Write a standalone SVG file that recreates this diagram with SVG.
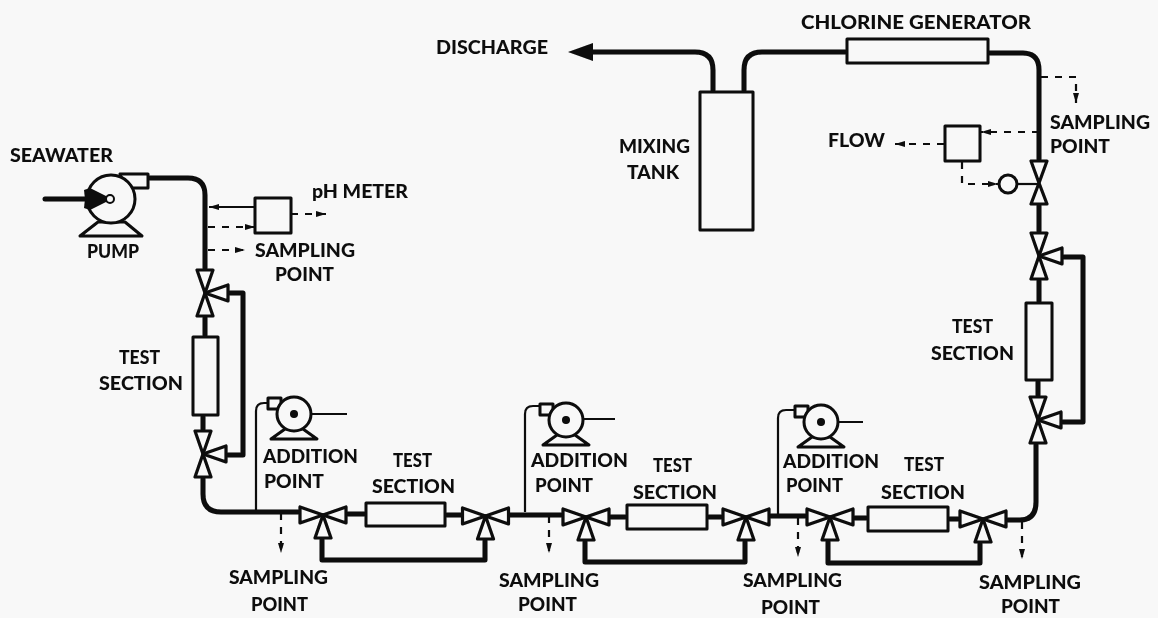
<svg xmlns="http://www.w3.org/2000/svg" xmlns:xlink="http://www.w3.org/1999/xlink" width="1158" height="618" viewBox="0 0 1158 618">
<style>
text{font-family:"Lato","Noto Sans","Liberation Sans",sans-serif;font-weight:900;font-size:18px;fill:#111}
.pipe{fill:none;stroke:#0a0a0a;stroke-width:5;stroke-linejoin:round}
.thin{fill:none;stroke:#0a0a0a;stroke-width:2.2}
.dash{fill:none;stroke:#0a0a0a;stroke-width:2.2;stroke-dasharray:7 7}
.box{fill:#f8f8f8;stroke:#0a0a0a;stroke-width:3;stroke-linejoin:round}
.tri{fill:#f8f8f8;stroke:#0a0a0a;stroke-width:3.2;stroke-linejoin:round}
.solid{fill:#0a0a0a}
</style>
<defs>
<filter id="soft" x="0" y="0" width="100%" height="100%"><feGaussianBlur stdDeviation="0.45"/></filter>
<marker id="ah" markerWidth="11" markerHeight="8" refX="10" refY="4" orient="auto" markerUnits="userSpaceOnUse"><path d="M0 1L10 4L0 7Z" fill="#0a0a0a"/></marker>
<g id="v3">
<path class="tri" d="M-8 -23H8L0 0Z"/><path class="tri" d="M-8 23H8L0 0Z"/><path class="tri" d="M0 0L23 -8V8Z"/>
</g>
<g id="v2">
<path class="tri" d="M-8 -22H8L0 0Z"/><path class="tri" d="M-8 21H8L0 0Z"/>
</g>
<g id="addpump">
<path class="box" d="M-26 -16H-13V-5H-26Z"/>
<path class="box" d="M-14 25L-23 25L-9 15H9L23 25Z"/>
<circle class="box" r="17"/>
<circle class="solid" r="4"/>
</g>
</defs>
<rect width="1158" height="618" fill="#f8f8f8"/>
<g filter="url(#soft)">
<g id="connectors">
<path class="pipe" d="M148 178H188Q205 178 205 195V270"/>
<path class="pipe" d="M205 315V337"/>
<path class="pipe" d="M228 293H243V455H225"/>
<path class="pipe" d="M203 415V432"/>
<path class="pipe" d="M203 477V494Q203 512 221 512H301"/>
<path class="pipe" d="M345 514H366M445 515H463"/>
<path class="pipe" d="M322 538V560H485V538"/>
<path class="pipe" d="M508 515H563"/>
<path class="pipe" d="M609 517H627M707 517H723"/>
<path class="pipe" d="M585 538V562H745V538"/>
<path class="pipe" d="M769 516H807"/>
<path class="pipe" d="M854 518H868M948 519H960"/>
<path class="pipe" d="M828 538V563H980V540"/>
<path class="pipe" d="M1005 520H1020Q1036 520 1036 502V443"/>
<path class="pipe" d="M1060 422H1083V257H1062"/>
<path class="pipe" d="M1038 398V380M1039 303V279M1039 234V204"/>
<path class="pipe" d="M988 53H1023Q1039 53 1039 70V161"/>
<path class="pipe" d="M713 92V70Q713 52 695 52H590"/>
<path class="pipe" d="M744 92V70Q744 52 762 52H847"/>
<path class="solid" d="M568 52L593 43V61Z"/>
<path class="pipe" d="M45 199H88" stroke-linecap="round"/>
<path class="thin" d="M255 207H209" marker-end="url(#ah)"/>
<path class="dash" d="M208 227H255" marker-end="url(#ah)"/>
<path class="dash" d="M291 214H326" marker-end="url(#ah)"/>
<path class="dash" d="M208 250H245" marker-end="url(#ah)"/>
<path class="dash" d="M1039 132H981" marker-end="url(#ah)"/>
<path class="dash" d="M944 144H895" marker-end="url(#ah)"/>
<path class="dash" d="M962 162V184H998" marker-end="url(#ah)"/>
<path class="dash" d="M1041 77H1076V103" marker-end="url(#ah)"/>
<path class="thin" d="M1017 184H1039"/>
<path class="dash" d="M281 513V553" marker-end="url(#ah)"/>
<path class="dash" d="M549 516V553" marker-end="url(#ah)"/>
<path class="dash" d="M798 518V557" marker-end="url(#ah)"/>
<path class="dash" d="M1022 522V559" marker-end="url(#ah)"/>
<path class="thin" d="M268 403H264Q256 403 256 411V511" />
<path class="thin" d="M541 406H533Q525 406 525 414V512"/>
<path class="thin" d="M796 410H786Q778 410 778 418V514"/>
<path class="thin" d="M294 414H347"/>
<path class="thin" d="M566 419H615"/>
<path class="thin" d="M821 422H863"/>
</g>

<g id="main-pump">
<path class="box" d="M120 174H148V188H125Z"/>
<path class="box" d="M80 236L98 222H125L142 236Z"/>
<circle class="box" cx="111" cy="199" r="24"/>
<path class="solid" d="M85 199L84 190L90 188L108 197V201L90 210L84 208Z"/>
<circle cx="110" cy="199" r="4" fill="#f8f8f8" stroke="#0a0a0a" stroke-width="2"/>
<text x="10" y="162" textLength="103" lengthAdjust="spacingAndGlyphs">SEAWATER</text>
<text x="87" y="258" textLength="52" lengthAdjust="spacingAndGlyphs">PUMP</text>
</g>
<g id="ph-meter">
<rect class="box" x="255" y="198" width="36" height="35"/>
<text x="312" y="198" textLength="96" lengthAdjust="spacingAndGlyphs">pH METER</text>
</g>
<g id="sampling-1">
<text x="255" y="257" textLength="100" lengthAdjust="spacingAndGlyphs">SAMPLING</text>
<text x="275" y="281" textLength="59" lengthAdjust="spacingAndGlyphs">POINT</text>
</g>
<g id="valve-left-top"><use xlink:href="#v3" href="#v3" x="205" y="293"/></g>
<g id="valve-left-bottom"><use xlink:href="#v3" href="#v3" x="203" y="454"/></g>
<g id="test-left">
<rect class="box" x="193" y="337" width="25" height="78"/>
<text x="119" y="364" textLength="41" lengthAdjust="spacingAndGlyphs">TEST</text>
<text x="99" y="390" textLength="84" lengthAdjust="spacingAndGlyphs">SECTION</text>
</g>

<g id="addition-1">
<use xlink:href="#addpump" href="#addpump" x="294" y="414"/>
<text x="263" y="463" textLength="95" lengthAdjust="spacingAndGlyphs">ADDITION</text>
<text x="264" y="488" textLength="60" lengthAdjust="spacingAndGlyphs">POINT</text>
</g>
<g id="test-1">
<rect class="box" x="366" y="503" width="79" height="23"/>
<text x="393" y="467" textLength="39" lengthAdjust="spacingAndGlyphs">TEST</text>
<text x="372" y="493" textLength="83" lengthAdjust="spacingAndGlyphs">SECTION</text>
</g>
<g id="valve-h1"><use xlink:href="#v3" href="#v3" transform="translate(323 515) rotate(90)"/></g>
<g id="valve-h2"><use xlink:href="#v3" href="#v3" transform="translate(485.500 516) rotate(90)"/></g>
<g id="sampling-2">
<text x="229" y="584" textLength="99" lengthAdjust="spacingAndGlyphs">SAMPLING</text>
<text x="251" y="611" textLength="57" lengthAdjust="spacingAndGlyphs">POINT</text>
</g>

<g id="addition-2">
<use xlink:href="#addpump" href="#addpump" x="566" y="420"/>
<text x="531" y="467" textLength="97" lengthAdjust="spacingAndGlyphs">ADDITION</text>
<text x="535" y="492" textLength="58" lengthAdjust="spacingAndGlyphs">POINT</text>
</g>
<g id="test-2">
<rect class="box" x="627" y="505" width="80" height="24"/>
<text x="653" y="472" textLength="39" lengthAdjust="spacingAndGlyphs">TEST</text>
<text x="633" y="499" textLength="84" lengthAdjust="spacingAndGlyphs">SECTION</text>
</g>
<g id="valve-h3"><use xlink:href="#v3" href="#v3" transform="translate(586 517) rotate(90)"/></g>
<g id="valve-h4"><use xlink:href="#v3" href="#v3" transform="translate(746 517) rotate(90)"/></g>
<g id="sampling-3">
<text x="499" y="587" textLength="100" lengthAdjust="spacingAndGlyphs">SAMPLING</text>
<text x="518" y="611" textLength="59" lengthAdjust="spacingAndGlyphs">POINT</text>
</g>

<g id="addition-3">
<use xlink:href="#addpump" href="#addpump" x="821" y="422"/>
<text x="783" y="468" textLength="96" lengthAdjust="spacingAndGlyphs">ADDITION</text>
<text x="786" y="492" textLength="57" lengthAdjust="spacingAndGlyphs">POINT</text>
</g>
<g id="test-3">
<rect class="box" x="868" y="507" width="80" height="24"/>
<text x="904" y="471" textLength="40" lengthAdjust="spacingAndGlyphs">TEST</text>
<text x="881" y="499" textLength="84" lengthAdjust="spacingAndGlyphs">SECTION</text>
</g>
<g id="valve-h5"><use xlink:href="#v3" href="#v3" transform="translate(830 517) rotate(90)"/></g>
<g id="valve-h6"><use xlink:href="#v3" href="#v3" transform="translate(983 519) rotate(90)"/></g>
<g id="sampling-4">
<text x="743" y="587" textLength="99" lengthAdjust="spacingAndGlyphs">SAMPLING</text>
<text x="761" y="614" textLength="59" lengthAdjust="spacingAndGlyphs">POINT</text>
</g>
<g id="sampling-5">
<text x="979" y="589" textLength="102" lengthAdjust="spacingAndGlyphs">SAMPLING</text>
<text x="1001" y="613" textLength="59" lengthAdjust="spacingAndGlyphs">POINT</text>
</g>

<g id="valve-right-bottom"><use xlink:href="#v3" href="#v3" x="1038" y="420"/></g>
<g id="valve-right-top"><use xlink:href="#v3" href="#v3" x="1039" y="256"/></g>
<g id="test-right">
<rect class="box" x="1026" y="303" width="26" height="77"/>
<text x="952" y="333" textLength="41" lengthAdjust="spacingAndGlyphs">TEST</text>
<text x="931" y="360" textLength="83" lengthAdjust="spacingAndGlyphs">SECTION</text>
</g>
<g id="control-valve">
<use xlink:href="#v2" href="#v2" x="1039" y="183"/>
<circle class="box" cx="1008" cy="184" r="9"/>
</g>
<g id="flow-meter">
<rect class="box" x="945" y="126" width="35" height="35"/>
<text x="828" y="147" textLength="57" lengthAdjust="spacingAndGlyphs">FLOW</text>
</g>
<g id="sampling-6">
<text x="1050" y="129" textLength="100" lengthAdjust="spacingAndGlyphs">SAMPLING</text>
<text x="1050" y="153" textLength="60" lengthAdjust="spacingAndGlyphs">POINT</text>
</g>
<g id="chlorine-generator">
<rect class="box" x="847" y="39" width="141" height="24"/>
<text x="801" y="29" textLength="230" lengthAdjust="spacingAndGlyphs">CHLORINE GENERATOR</text>
</g>
<g id="mixing-tank">
<rect class="box" x="700" y="92" width="53" height="138"/>
<text x="619" y="153" textLength="71" lengthAdjust="spacingAndGlyphs">MIXING</text>
<text x="627" y="179" textLength="52" lengthAdjust="spacingAndGlyphs">TANK</text>
</g>
<g id="discharge">
<text x="436" y="54" textLength="112" lengthAdjust="spacingAndGlyphs">DISCHARGE</text>
</g>
</g>
</svg>
